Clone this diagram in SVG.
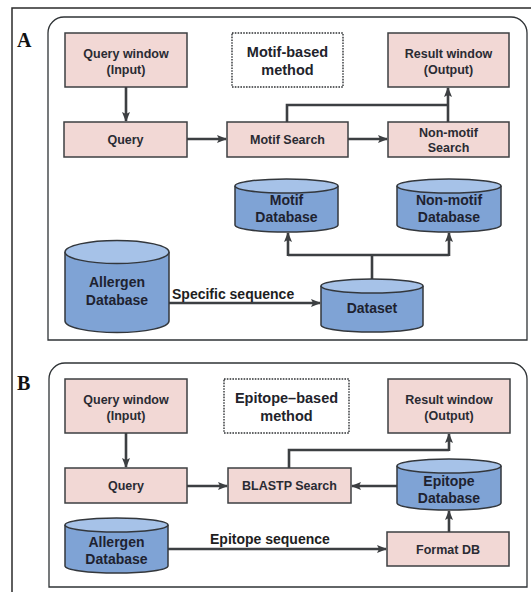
<svg xmlns="http://www.w3.org/2000/svg" width="531" height="592" viewBox="0 0 531 592">
<defs>
<marker id="arr" markerUnits="userSpaceOnUse" markerWidth="10" markerHeight="10" viewBox="0 0 10 10" refX="9" refY="5" orient="auto">
<path d="M0,1 L10,5 L0,9 L2,5 Z" fill="#3c3f42"/>
</marker>
</defs>
<style>
.frame{fill:none;stroke:#2b2b2b;stroke-width:1.5}
.panel{fill:#ffffff;stroke:#2f3336;stroke-width:1.3}
.box{fill:#f2d8d5;stroke:#3d3f42;stroke-width:1.5}
.dash{fill:#ffffff;stroke:#2f3235;stroke-width:1.4;stroke-dasharray:1.6 1.2}
.cyl{fill:#7fa3d5;stroke:#33373c;stroke-width:1.5}
.cyltop{fill:#a6c2e8;stroke:#33373c;stroke-width:1.5}
.t{font-family:"Liberation Sans",Arial,sans-serif;font-weight:bold;font-size:12.5px;fill:#2a2b33;text-anchor:middle}
.tl{font-family:"Liberation Sans",Arial,sans-serif;font-weight:bold;font-size:14.5px;fill:#22232b;text-anchor:middle}
.td{font-family:"Liberation Sans",Arial,sans-serif;font-weight:bold;font-size:14px;fill:#1e2230;text-anchor:middle}
.lab{font-family:"Liberation Sans",Arial,sans-serif;font-weight:bold;font-size:14px;fill:#1e1e1e}
.letter{font-family:"Liberation Serif","Times New Roman",serif;font-weight:bold;font-size:20px;fill:#111}
.c{fill:none;stroke:#3c3f42;stroke-width:2.6}
.ca{fill:none;stroke:#3c3f42;stroke-width:2.6;marker-end:url(#arr)}
</style>
<rect width="531" height="592" fill="#ffffff"/>
<rect class="frame" x="12" y="8" width="600" height="700"/>

<g id="panelA">
<path class="panel" d="M48,340 L48,33 A16,16 0 0 1 64,17 L511,17 A16,16 0 0 1 527,33 L527,340 Z"/>
<text class="letter" x="17" y="47">A</text>
</g>
<g id="panelB">
<path class="panel" d="M49,587 L49,379 A16,16 0 0 1 65,363 L511,363 A16,16 0 0 1 527,379 L527,587 Z"/>
<text class="letter" x="17" y="390">B</text>
</g>

<g id="connectors">
<!-- panel A -->
<path class="ca" d="M126,87 L126,121"/>
<path class="ca" d="M187,139 L226,139"/>
<path class="ca" d="M348,139 L387,139"/>
<path class="c" d="M287,122 L287,105 L448,105"/>
<path class="ca" d="M448,122 L448,88"/>
<path class="c" d="M372,279 L372,255"/>
<path class="c" d="M288,255 L449,255"/>
<path class="ca" d="M288,256 L288,233"/>
<path class="ca" d="M449,256 L449,233"/>
<path class="ca" d="M169,303 L320,303"/>
<text class="lab" x="172" y="299">Specific sequence</text>
<!-- panel B -->
<path class="ca" d="M126,433 L126,467"/>
<path class="ca" d="M187,486 L227,486"/>
<path class="ca" d="M397,486 L352,486"/>
<path class="c" d="M289,468 L289,450 L449,450"/>
<path class="ca" d="M449,451 L449,434"/>
<path class="ca" d="M449,532 L449,511"/>
<path class="ca" d="M168,549 L386,549"/>
<text class="lab" x="210" y="544">Epitope sequence</text>
</g>

<g id="queryWindowA">
<rect class="box" x="65" y="33" width="122" height="54"/>
<text class="t" x="126" y="58">Query window</text>
<text class="t" x="126" y="74">(Input)</text>
</g>
<g id="methodA">
<rect class="dash" x="232" y="33" width="111" height="54"/>
<text class="tl" x="287.5" y="57">Motif-based</text>
<text class="tl" x="287.5" y="75">method</text>
</g>
<g id="resultWindowA">
<rect class="box" x="388" y="33" width="121" height="54"/>
<text class="t" x="448.5" y="58">Result window</text>
<text class="t" x="448.5" y="74">(Output)</text>
</g>
<g id="queryA">
<rect class="box" x="64" y="122" width="123" height="35"/>
<text class="t" x="125.5" y="144">Query</text>
</g>
<g id="motifSearch">
<rect class="box" x="227" y="122" width="121" height="35"/>
<text class="t" x="287.5" y="144">Motif Search</text>
</g>
<g id="nonMotifSearch">
<rect class="box" x="388" y="122" width="121" height="35"/>
<text class="t" x="448.5" y="137">Non-motif</text>
<text class="t" x="448.5" y="152">Search</text>
</g>
<g id="motifDB">
<path class="cyl" d="M235,186 L235,225 A51.5,7 0 0 0 338,225 L338,186"/>
<ellipse class="cyltop" cx="286.5" cy="186" rx="51.5" ry="7"/>
<text class="td" x="286.5" y="205">Motif</text>
<text class="td" x="286.5" y="222">Database</text>
</g>
<g id="nonMotifDB">
<path class="cyl" d="M397,186 L397,225 A52,7 0 0 0 501,225 L501,186"/>
<ellipse class="cyltop" cx="449" cy="186" rx="52" ry="7"/>
<text class="td" x="449" y="205">Non-motif</text>
<text class="td" x="449" y="222">Database</text>
</g>
<g id="allergenDBA">
<path class="cyl" d="M65,252 L65,321 A52,11.5 0 0 0 169,321 L169,252"/>
<ellipse class="cyltop" cx="117" cy="252" rx="52" ry="11.5"/>
<text class="td" x="117" y="287">Allergen</text>
<text class="td" x="117" y="305">Database</text>
</g>
<g id="dataset">
<path class="cyl" d="M321,286 L321,325 A51,7 0 0 0 423,325 L423,286"/>
<ellipse class="cyltop" cx="372" cy="286" rx="51" ry="7"/>
<text class="td" x="372" y="313">Dataset</text>
</g>

<g id="queryWindowB">
<rect class="box" x="65" y="379" width="122" height="54"/>
<text class="t" x="126" y="404">Query window</text>
<text class="t" x="126" y="420">(Input)</text>
</g>
<g id="methodB">
<rect class="dash" x="224" y="379" width="125" height="54"/>
<text class="tl" x="286.5" y="403">Epitope–based</text>
<text class="tl" x="286.5" y="421">method</text>
</g>
<g id="resultWindowB">
<rect class="box" x="388" y="379" width="122" height="54"/>
<text class="t" x="449" y="404">Result window</text>
<text class="t" x="449" y="420">(Output)</text>
</g>
<g id="queryB">
<rect class="box" x="65" y="468" width="122" height="35"/>
<text class="t" x="126" y="490">Query</text>
</g>
<g id="blastpSearch">
<rect class="box" x="228" y="468" width="123" height="35"/>
<text class="t" x="289.5" y="490">BLASTP Search</text>
</g>
<g id="epitopeDB">
<path class="cyl" d="M397,466 L397,503 A52,7 0 0 0 501,503 L501,466"/>
<ellipse class="cyltop" cx="449" cy="466" rx="52" ry="7"/>
<text class="td" x="449" y="486">Epitope</text>
<text class="td" x="449" y="503">Database</text>
</g>
<g id="allergenDBB">
<path class="cyl" d="M65,525 L65,566 A51.5,7 0 0 0 168,566 L168,525"/>
<ellipse class="cyltop" cx="116.5" cy="525" rx="51.5" ry="7"/>
<text class="td" x="116.5" y="547">Allergen</text>
<text class="td" x="116.5" y="564">Database</text>
</g>
<g id="formatDB">
<rect class="box" x="387" y="532" width="122" height="34"/>
<text class="t" x="448" y="554">Format DB</text>
</g>
</svg>
